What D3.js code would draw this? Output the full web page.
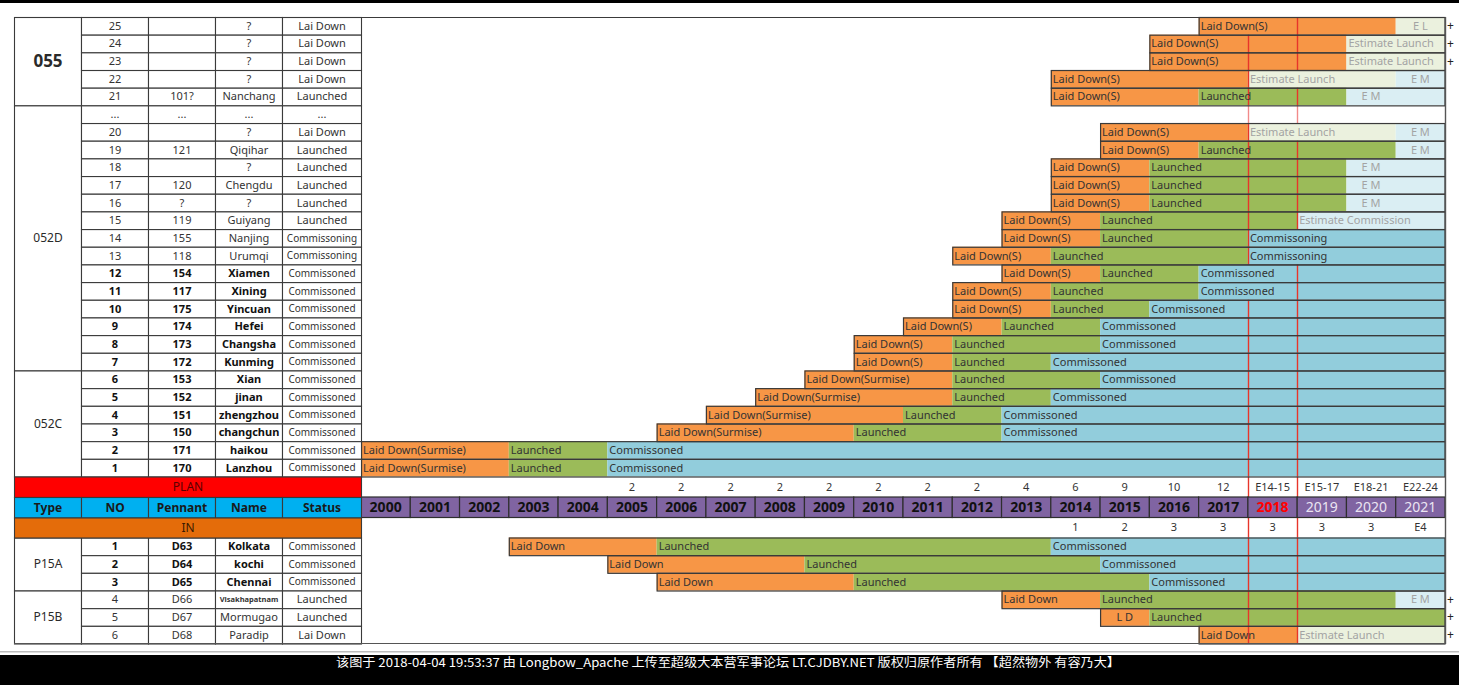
<!DOCTYPE html>
<html><head><meta charset="utf-8">
<script src="https://cdn.jsdelivr.net/npm/d3@7/dist/d3.min.js"></script>
<style>body{margin:0;background:#fff;overflow:hidden}svg{display:block;font-family:"Noto Sans",sans-serif}</style>
</head><body><svg id="c" width="1459" height="685"></svg>
<script>
// ---------------- DATA ----------------
const years = ["2000","2001","2002","2003","2004","2005","2006","2007","2008","2009","2010","2011","2012","2013","2014","2015","2016","2017","2018","2019","2020","2021"];
const planCounts = ["","","","","","2","2","2","2","2","2","2","2","4","6","9","10","12","E14-15","E15-17","E18-21","E22-24"];
const inCounts = ["","","","","","","","","","","","","","","1","2","3","3","3","3","3","E4"];
const headerCols = ["Type","NO","Pennant","Name","Status"];

const planTypes = [["055",0,5],["052D",5,20],["052C",20,26]];
const planNo = ["25","24","23","22","21","...","20","19","18","17","16","15","14","13","12","11","10","9","8","7","6","5","4","3","2","1"];
const planPennant = ["","","","","101?","...","","121","","120","?","119","155","118","154","117","175","174","173","172","153","152","151","150","171","170"];
const planName = ["?","?","?","?","Nanchang","...","?","Qiqihar","?","Chengdu","?","Guiyang","Nanjing","Urumqi","Xiamen","Xining","Yincuan","Hefei","Changsha","Kunming","Xian","jinan","zhengzhou","changchun","haikou","Lanzhou"];
const planStatus = ["Lai Down","Lai Down","Lai Down","Lai Down","Launched","...","Lai Down","Launched","Launched","Launched","Launched","Launched","Commissoning","Commissoning","Commissoned","Commissoned","Commissoned","Commissoned","Commissoned","Commissoned","Commissoned","Commissoned","Commissoned","Commissoned","Commissoned","Commissoned"];
const planBold = [0,0,0,0,0,0,0,0,0,0,0,0,0,0,1,1,1,1,1,1,1,1,1,1,1,1];
// segments: [start year, stage, label]; every bar runs to the end of 2021
const planBars = [
  [[2017,"ld","Laid Down(S)"],[2021,"el","E L"]],
  [[2016,"ld","Laid Down(S)"],[2020,"el","Estimate Launch"]],
  [[2016,"ld","Laid Down(S)"],[2020,"el","Estimate Launch"]],
  [[2014,"ld","Laid Down(S)"],[2018,"el","Estimate Launch"],[2021,"em","E M"]],
  [[2014,"ld","Laid Down(S)"],[2017,"la","Launched"],[2020,"em","E M"]],
  [],
  [[2015,"ld","Laid Down(S)"],[2018,"el","Estimate Launch"],[2021,"em","E M"]],
  [[2015,"ld","Laid Down(S)"],[2017,"la","Launched"],[2021,"em","E M"]],
  [[2014,"ld","Laid Down(S)"],[2016,"la","Launched"],[2020,"em","E M"]],
  [[2014,"ld","Laid Down(S)"],[2016,"la","Launched"],[2020,"em","E M"]],
  [[2014,"ld","Laid Down(S)"],[2016,"la","Launched"],[2020,"em","E M"]],
  [[2013,"ld","Laid Down(S)"],[2015,"la","Launched"],[2019,"ec","Estimate Commission"]],
  [[2013,"ld","Laid Down(S)"],[2015,"la","Launched"],[2018,"cg","Commissoning"]],
  [[2012,"ld","Laid Down(S)"],[2014,"la","Launched"],[2018,"cg","Commissoning"]],
  [[2013,"ld","Laid Down(S)"],[2015,"la","Launched"],[2017,"c","Commissoned"]],
  [[2012,"ld","Laid Down(S)"],[2014,"la","Launched"],[2017,"c","Commissoned"]],
  [[2012,"ld","Laid Down(S)"],[2014,"la","Launched"],[2016,"c","Commissoned"]],
  [[2011,"ld","Laid Down(S)"],[2013,"la","Launched"],[2015,"c","Commissoned"]],
  [[2010,"ld","Laid Down(S)"],[2012,"la","Launched"],[2015,"c","Commissoned"]],
  [[2010,"ld","Laid Down(S)"],[2012,"la","Launched"],[2014,"c","Commissoned"]],
  [[2009,"ld","Laid Down(Surmise)"],[2012,"la","Launched"],[2015,"c","Commissoned"]],
  [[2008,"ld","Laid Down(Surmise)"],[2012,"la","Launched"],[2014,"c","Commissoned"]],
  [[2007,"ld","Laid Down(Surmise)"],[2011,"la","Launched"],[2013,"c","Commissoned"]],
  [[2006,"ld","Laid Down(Surmise)"],[2010,"la","Launched"],[2013,"c","Commissoned"]],
  [[2000,"ld","Laid Down(Surmise)"],[2003,"la","Launched"],[2005,"c","Commissoned"]],
  [[2000,"ld","Laid Down(Surmise)"],[2003,"la","Launched"],[2005,"c","Commissoned"]]
];
// which of the 2018 / 2019 marker lines show in each row
const planMarks = [[2019],[2018,2019],[2018,2019],[2018],[2018,2019],[2018,2019],[2018],[2018,2019],[2018,2019],[2018,2019],[2018,2019],[2018,2019],[2018],[2018],[2019],[2019],[2018,2019],[2018,2019],[2018,2019],[2018,2019],[2018,2019],[2018,2019],[2018,2019],[2018,2019],[2018,2019],[2018,2019]];
const planPlus = [1,1,1,0,0,0,0,0,0,0,0,0,0,0,0,0,0,0,0,0,0,0,0,0,0,0];

const inTypes = [["P15A",0,3],["P15B",3,6]];
const inNo = ["1","2","3","4","5","6"];
const inPennant = ["D63","D64","D65","D66","D67","D68"];
const inName = ["Kolkata","kochi","Chennai","Visakhapatnam","Mormugao","Paradip"];
const inStatus = ["Commissoned","Commissoned","Commissoned","Launched","Launched","Lai Down"];
const inBold = [1,1,1,0,0,0];
const inBars = [
  [[2003,"ld","Laid Down"],[2006,"la","Launched"],[2014,"c","Commissoned"]],
  [[2005,"ld","Laid Down"],[2009,"la","Launched"],[2015,"c","Commissoned"]],
  [[2006,"ld","Laid Down"],[2010,"la","Launched"],[2016,"c","Commissoned"]],
  [[2013,"ld","Laid Down"],[2015,"la","Launched"],[2021,"em","E M"]],
  [[2015,"ld","L D"],[2016,"la","Launched"]],
  [[2017,"ld","Laid Down"],[2019,"el","Estimate Launch"]]
];
const inMarks = [[2018,2019],[2018,2019],[2018,2019],[2018,2019],[2018,2019],[2018,2019]];
const inPlus = [0,0,0,1,1,1];
const markYears = [2018, 2019];
const footer = "该图于 2018-04-04 19:53:37 由 Longbow_Apache 上传至超级大本营军事论坛 LT.CJDBY.NET 版权归原作者所有 【超然物外 有容乃大】";

// ---------------- LAYOUT ----------------
const W = 1459, H = 685;
const svg = d3.select("#c");
const END = 2022;
const x = d3.scaleLinear().domain([2000, END]).range([361, 1445]);
const yPlan = d3.scaleBand().domain(d3.range(planNo.length)).range([17, 476.5]);
const yIn = d3.scaleBand().domain(d3.range(inNo.length)).range([537.5, 643.5]);
const colX = [14, 81, 148, 215, 282, 361];
const planRow = [476.5, 497], headRow = [497, 517.5], inRow = [517.5, 537.5];

const fillOf = {ld:"#f79646", la:"#9bbb59", c:"#92cddc", cg:"#92cddc", el:"#ebf1de", em:"#daeef3", ec:"#daeef3"};
const estimated = {el:1, em:1, ec:1};
const shortLabel = {"E L":1, "E M":1, "L D":1};

svg.append("rect").attr("x",0).attr("y",0).attr("width",W).attr("height",H).attr("fill","#fff");
svg.append("rect").attr("x",0).attr("y",0).attr("width",W).attr("height",3).attr("fill","#000");

const gFill = svg.append("g"), gMark = svg.append("g"), gLine = svg.append("g"), gText = svg.append("g");
const mx = my => Math.round(x(my)) + 0.5;
const MARK = "#e8352a";

function drawBars(rows, marks, yS) {
  rows.forEach((segs, i) => {
    const y0 = yS(i), h = yS.bandwidth();
    segs.forEach((s, k) => {
      const s1 = k < segs.length - 1 ? segs[k+1][0] : END;
      gFill.append("rect").attr("x", x(s[0])).attr("y", y0).attr("width", x(s1) - x(s[0])).attr("height", h).attr("fill", fillOf[s[1]]);
      const t = gText.append("text").attr("y", y0 + h/2).attr("dy","0.36em").attr("font-size", 11)
        .attr("fill", estimated[s[1]] ? "#a3a3a3" : "#333").text(s[2]);
      if (shortLabel[s[2]]) t.attr("x", x(s[0]) + (x(s[0]+1)-x(s[0]))/2).attr("text-anchor","middle");
      else t.attr("x", x(s[0]) + 2);
    });
    if (segs.length) {
      gLine.append("rect").attr("x", x(segs[0][0]) + 0.5).attr("y", y0 + 0.5).attr("width", x(END) - x(segs[0][0]) - 0.5)
        .attr("height", h).attr("fill","none").attr("stroke","#3a3a3a").attr("stroke-width",1.2);
    }
    marks[i].forEach(my => {
      gMark.append("line").attr("x1", mx(my)).attr("x2", mx(my)).attr("y1", y0).attr("y2", y0+h)
        .attr("stroke", segs.length ? MARK : "#f28a8a").attr("stroke-width",1.4);
    });
  });
}
drawBars(planBars, planMarks, yPlan);
drawBars(inBars, inMarks, yIn);

// red marker lines through count rows
[planRow, inRow].forEach(r => markYears.forEach(my => {
  gMark.append("line").attr("x1", mx(my)).attr("x2", mx(my)).attr("y1", r[0]).attr("y2", r[1])
    .attr("stroke", MARK).attr("stroke-width",1.4);
}));

// plus marks
function plus(flags, yS) {
  flags.forEach((f, i) => { if (f) gText.append("text").attr("x", 1447).attr("y", yS(i)+yS.bandwidth()/2).attr("dy","0.36em")
    .attr("font-size", 12).attr("fill","#222").text("+"); });
}
plus(planPlus, yPlan); plus(inPlus, yIn);

// count rows
const xc = i => x(2000 + i) + (x(2001) - x(2000)) / 2;
[[planCounts, planRow], [inCounts, inRow]].forEach(([arr, r]) => {
  arr.forEach((v, i) => gText.append("text").attr("x", xc(i)).attr("y", (r[0]+r[1])/2).attr("dy","0.36em")
    .attr("text-anchor","middle").attr("font-size",11).attr("fill","#333").text(v));
});

// year header
years.forEach((yr, i) => {
  gLine.append("rect").attr("x", x(2000+i)).attr("y", headRow[0]).attr("width", x(2001)-x(2000)).attr("height", headRow[1]-headRow[0])
    .attr("fill","#8064a2").attr("stroke","#2e2e2e").attr("stroke-width",1.2);
  const future = +yr > 2018, now = +yr === 2018;
  gText.append("text").attr("x", xc(i)).attr("y", (headRow[0]+headRow[1])/2).attr("dy","0.36em").attr("text-anchor","middle")
    .attr("font-size",14).attr("font-weight", future ? 400 : 700).attr("fill", now ? "#ff0000" : future ? "#ebe4f2" : "#111").text(yr);
});

// left table
function cell(x0, x1, y0, y1, txt, opts) {
  gLine.append("rect").attr("x", x0+0.5).attr("y", y0+0.5).attr("width", x1-x0).attr("height", y1-y0)
    .attr("fill", opts.fill || "#fff").attr("stroke","#3a3a3a").attr("stroke-width",1.1);
  gText.append("text").attr("x", (x0+x1)/2+0.5).attr("y", (y0+y1)/2).attr("dy","0.36em").attr("text-anchor","middle")
    .attr("font-size", opts.size || 11).attr("font-weight", opts.bold ? 700 : 400).attr("fill", opts.color || "#2a2a2a").text(txt);
}
function table(types, yS, no, pen, name, status, bold) {
  types.forEach(t => {
    const big = t[0] === "055";
    cell(colX[0], colX[1], yS(t[1]), yS(t[2]-1)+yS.bandwidth(), t[0], {size: big ? 17 : 12, bold: big});
  });
  no.forEach((n, i) => {
    const y0 = yS(i), y1 = y0 + yS.bandwidth(), b = !!bold[i];
    const c = b ? "#111" : "#333";
    cell(colX[1], colX[2], y0, y1, n, {bold: b, color: c});
    cell(colX[2], colX[3], y0, y1, pen[i], {bold: b, color: c});
    const nm = name[i];
    cell(colX[3], colX[4], y0, y1, nm, {bold: b || nm.length > 11, color: c, size: nm.length > 11 ? 7.5 : 11});
    const st = status[i];
    cell(colX[4], colX[5], y0, y1, st, {size: st.startsWith("Commiss") ? 10 : 11, color: "#333"});
  });
}
table(planTypes, yPlan, planNo, planPennant, planName, planStatus, planBold);
table(inTypes, yIn, inNo, inPennant, inName, inStatus, inBold);

cell(colX[0], colX[5], planRow[0], planRow[1], "PLAN", {fill:"#ff0000", size:12, color:"#5a0000"});
headerCols.forEach((h, i) => cell(colX[i], colX[i+1], headRow[0], headRow[1], h, {fill:"#00b0f0", bold:true, size:12, color:"#1a1a1a"}));
cell(colX[0], colX[5], inRow[0], inRow[1], "IN", {fill:"#e46c0a", size:12, color:"#3a1a00"});

// outer frame
gLine.append("line").attr("x1", 14).attr("x2", 1445.5).attr("y1", 17.5).attr("y2", 17.5).attr("stroke","#3a3a3a").attr("stroke-width",1.2);
gLine.append("line").attr("x1", 14).attr("x2", 1445.5).attr("y1", 643.5).attr("y2", 643.5).attr("stroke","#555").attr("stroke-width",1.2);
gLine.append("line").attr("x1", 1445.5).attr("x2", 1445.5).attr("y1", 17).attr("y2", 644).attr("stroke","#555").attr("stroke-width",1.4);

// footer
svg.append("rect").attr("x",0).attr("y",651).attr("width",W).attr("height",1.5).attr("fill","#bbb");
svg.append("rect").attr("x",0).attr("y",655).attr("width",W).attr("height",H-655).attr("fill","#000");
svg.append("text").attr("x", 728).attr("y", 663).attr("dy","0.36em").attr("text-anchor","middle")
  .attr("font-family", "'Noto Sans CJK SC', sans-serif").attr("font-size", 12).attr("fill","#fff")
  .attr("textLength", 784).attr("lengthAdjust","spacingAndGlyphs").text(footer);
</script></body></html>
